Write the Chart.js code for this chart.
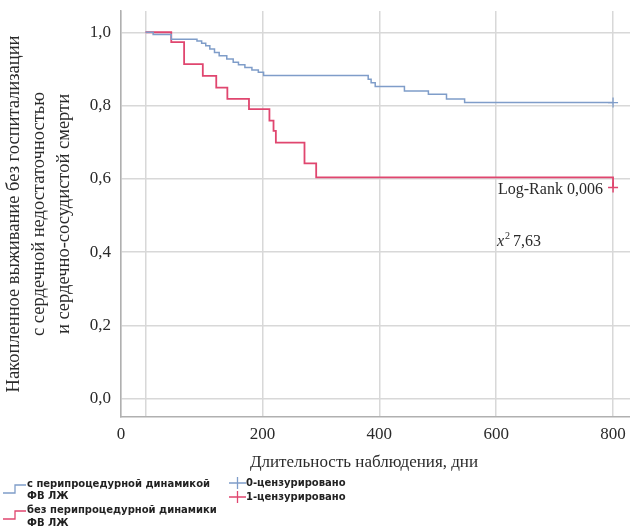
<!DOCTYPE html>
<html><head><meta charset="utf-8">
<script src="https://cdn.jsdelivr.net/npm/chart.js@4.4.0/dist/chart.umd.min.js"></script>
<style>html,body{margin:0;padding:0;background:#fff}#wrap{position:relative;width:630px;height:529px}</style>
</head><body><div id="wrap"><canvas id="c" width="630" height="529"></canvas></div>
<script>
// ---- data ----
const xTickValues = [0, 200, 400, 600, 800];
const yTickValues = [0, 0.2, 0.4, 0.6, 0.8, 1.0];
const blueTimes = [0, 13, 44, 88, 96, 103, 110, 118, 126, 139, 150, 159, 170, 182, 193, 202, 381, 386, 393, 443, 484, 515, 546, 800];
const blueSurv  = [1.0, 0.994, 0.981, 0.976, 0.970, 0.963, 0.954, 0.945, 0.936, 0.927, 0.918, 0.911, 0.904, 0.897, 0.891, 0.882, 0.872, 0.862, 0.852, 0.840, 0.831, 0.818, 0.808, 0.808];
const redTimes  = [0, 44, 66, 98, 121, 140, 177, 212, 219, 223, 272, 292, 800];
const redSurv   = [1.0, 0.973, 0.913, 0.881, 0.849, 0.818, 0.790, 0.759, 0.731, 0.699, 0.642, 0.604, 0.576];
const blueCensorTimes = [800];
const blueCensorSurv  = [0.808];
const redCensorTimes  = [800];
const redCensorSurv   = [0.576];
const seriesLabels = [['с перипроцедурной динамикой', 'ФВ ЛЖ'], ['без перипроцедурной динамики', 'ФВ ЛЖ']];
const censorLabels = ['0-цензурировано', '1-цензурировано'];
const yTitle = ['Накопленное выживание без госпитализации', 'с сердечной недостаточностью', 'и сердечно-сосудистой смерти'];
const xTitle = 'Длительность наблюдения, дни';
const logRankText = 'Log-Rank 0,006';
const chiText = '7,63';

// ---- style ----
const BLUE = '#7f9dc9';
const RED = '#e0466f';
const GRID = '#d8d8d8';
const AXIS = '#b0b0b0';
const TXT = '#2a2a2a';
const SERIF = '"Liberation Serif", "Times New Roman", serif';
const X_MIN = -42, X_MAX = 829, Y_MIN = -0.05, Y_MAX = 1.058;

const pts = (xs, ys) => xs.map((x, i) => ({x: x, y: ys[i]}));

const overlay = {
  id: 'overlay',
  afterDraw(chart) {
    const ctx = chart.ctx;
    ctx.save();
    // x title
    ctx.fillStyle = TXT;
    ctx.font = '17px ' + SERIF;
    ctx.textAlign = 'center';
    ctx.textBaseline = 'middle';
    ctx.fillText(xTitle, 364, 463);
    // annotations
    ctx.textAlign = 'left';
    ctx.font = '16px ' + SERIF;
    ctx.fillText(logRankText, 498, 190);
    ctx.font = 'italic 16px ' + SERIF;
    ctx.fillText('x', 497, 242);
    ctx.font = '10px ' + SERIF;
    ctx.fillText('2', 505, 236);
    ctx.font = '16px ' + SERIF;
    ctx.fillText(' ' + chiText, 509, 242);
    // legend
    ctx.font = 'bold 10px "DejaVu Sans", sans-serif';
    ctx.lineWidth = 1.3;
    const rows = [[484, 496], [510, 523]];
    const cols = [BLUE, RED];
    for (let i = 0; i < 2; i++) {
      const y1 = rows[i][0], y2 = rows[i][1];
      ctx.strokeStyle = cols[i];
      ctx.beginPath();
      ctx.moveTo(3, y1 + 9); ctx.lineTo(15, y1 + 9); ctx.lineTo(15, y1 + 1); ctx.lineTo(26, y1 + 1);
      ctx.stroke();
      ctx.fillStyle = '#222';
      ctx.fillText(seriesLabels[i][0], 27, y1);
      ctx.fillText(seriesLabels[i][1], 27, y2);
    }
    const cy = [483, 497];
    for (let i = 0; i < 2; i++) {
      ctx.strokeStyle = cols[i];
      ctx.beginPath();
      ctx.moveTo(229, cy[i]); ctx.lineTo(246, cy[i]);
      ctx.moveTo(237.5, cy[i] - 6); ctx.lineTo(237.5, cy[i] + 6);
      ctx.stroke();
      ctx.fillStyle = '#222';
      ctx.fillText(censorLabels[i], 246, cy[i]);
    }
    ctx.restore();
  }
};

new Chart(document.getElementById('c'), {
  type: 'line',
  data: {
    datasets: [
      {label: seriesLabels[0].join(' '), data: pts(blueTimes, blueSurv), borderColor: BLUE, borderWidth: 1.5, stepped: true, pointRadius: 0, fill: false},
      {label: seriesLabels[1].join(' '), data: pts(redTimes, redSurv), borderColor: RED, borderWidth: 1.8, stepped: true, pointRadius: 0, fill: false},
      {type: 'scatter', label: censorLabels[0], data: pts(blueCensorTimes, blueCensorSurv), pointStyle: 'cross', pointRadius: 5, borderColor: BLUE, borderWidth: 1.3, showLine: false},
      {type: 'scatter', label: censorLabels[1], data: pts(redCensorTimes, redCensorSurv), pointStyle: 'cross', pointRadius: 5, borderColor: RED, borderWidth: 1.5, showLine: false}
    ]
  },
  options: {
    responsive: false,
    animation: false,
    layout: {autoPadding: false, padding: {top: 11, right: 0, left: 0, bottom: 0}},
    plugins: {legend: {display: false}, tooltip: {enabled: false}},
    scales: {
      x: {
        type: 'linear', min: X_MIN, max: X_MAX,
        afterBuildTicks: s => { s.ticks = [{value: X_MIN}].concat(xTickValues.map(v => ({value: v}))); },
        afterFit: s => { s.height = 112; s.paddingLeft = 0; s.paddingRight = 0; },
        ticks: {
          callback: v => v === X_MIN ? '0' : (v === 0 ? '' : String(v)),
          font: {family: SERIF, size: 17}, color: TXT, padding: 7, maxRotation: 0, autoSkip: false
        },
        grid: {color: GRID, lineWidth: 1.5, drawTicks: false},
        border: {color: AXIS, width: 1.5}
      },
      y: {
        type: 'linear', min: Y_MIN, max: Y_MAX,
        afterBuildTicks: s => { s.ticks = yTickValues.map(v => ({value: v})); },
        afterFit: s => { s.width = 121; s.paddingTop = 0; s.paddingBottom = 0; },
        ticks: {
          callback: v => v.toFixed(1).replace('.', ','),
          font: {family: SERIF, size: 17}, color: TXT, padding: 10
        },
        grid: {color: GRID, lineWidth: 1.5, drawTicks: false},
        border: {color: AXIS, width: 1.5},
        title: {display: true, text: yTitle, font: {family: SERIF, size: 18.5, lineHeight: '25px'}, color: TXT, padding: {top: 2, bottom: 0}}
      }
    }
  },
  plugins: [overlay]
});
</script></body></html>
